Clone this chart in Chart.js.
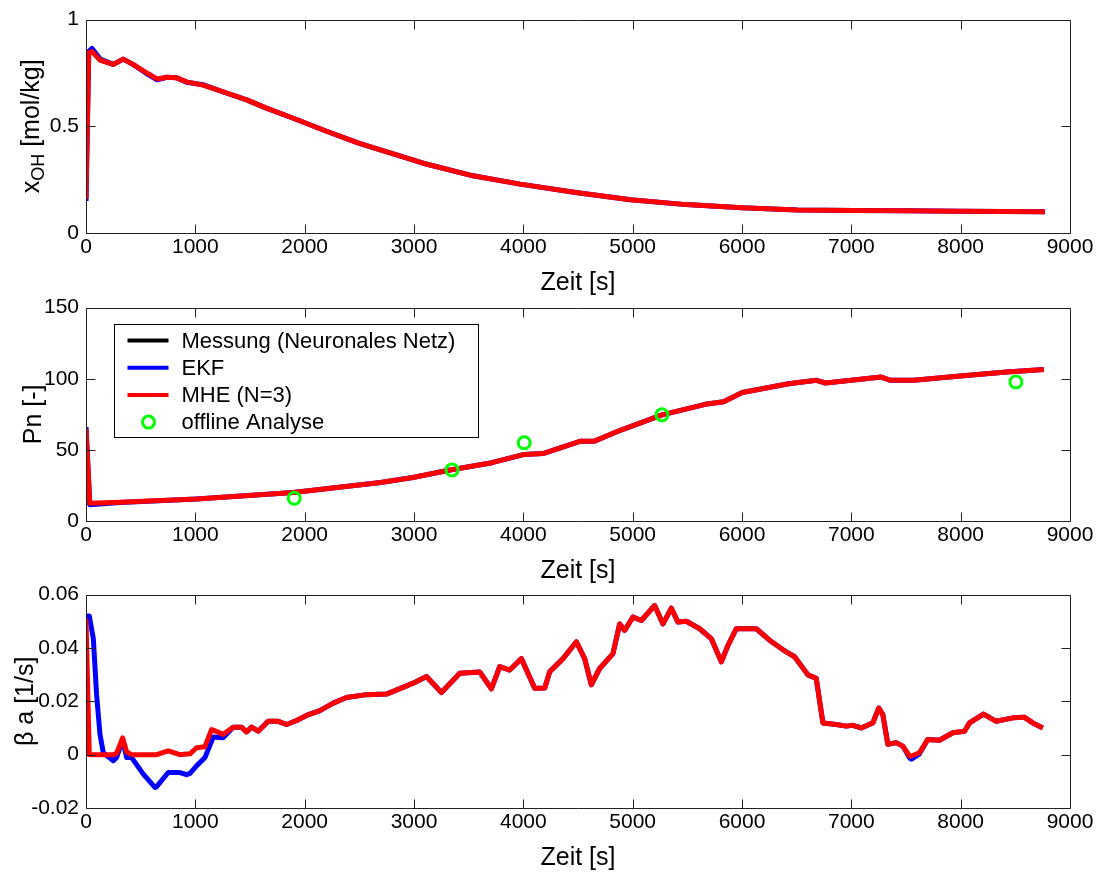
<!DOCTYPE html>
<html lang="de">
<head>
<meta charset="UTF-8">
<title>Zustandsschätzung: EKF und MHE</title>
<script src="https://cdn.jsdelivr.net/npm/chart.js"></script>
<style>
  body { margin: 0; background: #fff; }
  #wrap { position: relative; width: 1107px; height: 874px; overflow: hidden; }
  .plot { position: absolute; left: 0; width: 1107px; height: 298px; }
</style>
</head>
<body>
<div id="wrap">
  <div class="plot" style="top:0px"><canvas id="cOH" width="1107" height="298"></canvas></div>
  <div class="plot" style="top:288px"><canvas id="cPn" width="1107" height="298"></canvas></div>
  <div class="plot" style="top:575px"><canvas id="cBa" width="1107" height="298"></canvas></div>
</div>
<script>
// ---- Daten: x_OH [mol/kg]
const tOH = [0, 25, 55, 130, 250, 340, 430, 540, 650, 740, 830, 920, 1070, 1250, 1470, 1650, 1890, 2200, 2500, 2870, 3120, 3540, 3970, 4480, 4980, 5490, 6000, 6510, 7020, 7500, 8000, 8400, 8770];
const ohMess = [0.84, 0.845, 0.845, 0.805, 0.785, 0.81, 0.785, 0.75, 0.716, 0.726, 0.722, 0.704, 0.69, 0.658, 0.62, 0.582, 0.535, 0.474, 0.417, 0.358, 0.32, 0.266, 0.227, 0.188, 0.155, 0.132, 0.117, 0.108, 0.105, 0.104, 0.102, 0.101, 0.099];
const ohEKF = [0.15, 0.85, 0.865, 0.815, 0.79, 0.815, 0.79, 0.752, 0.718, 0.73, 0.727, 0.706, 0.695, 0.662, 0.624, 0.585, 0.539, 0.477, 0.42, 0.361, 0.322, 0.268, 0.229, 0.19, 0.156, 0.133, 0.118, 0.108, 0.105, 0.104, 0.102, 0.101, 0.099];
const ohMHE = [0.16, 0.845, 0.85, 0.81, 0.79, 0.815, 0.79, 0.755, 0.722, 0.73, 0.727, 0.708, 0.693, 0.662, 0.624, 0.585, 0.539, 0.477, 0.42, 0.361, 0.322, 0.268, 0.229, 0.19, 0.156, 0.133, 0.118, 0.108, 0.105, 0.104, 0.102, 0.101, 0.099];

// ---- Daten: Pn [-]
const tPn = [0, 35, 311, 1011, 1895, 2695, 2990, 3331, 3712, 4009, 4179, 4518, 4645, 4899, 5269, 5663, 5832, 6002, 6426, 6680, 6765, 7274, 7359, 7572, 7996, 8420, 8760];
const pnMess = [12, 12.5, 13, 15.3, 19.9, 26.9, 30.4, 35.7, 40.8, 46.6, 47.2, 55.8, 55.8, 63.9, 74.4, 81.8, 83.6, 90.1, 96.3, 98.7, 96.8, 101, 98.7, 98.7, 101.7, 104.5, 106.3];
const pnEKF = [66, 11.5, 13, 15.5, 20.1, 27.1, 30.6, 35.9, 41, 46.8, 47.4, 56, 56, 64.1, 74.6, 82, 83.8, 90.3, 96.5, 98.9, 97, 101.2, 98.9, 98.9, 101.9, 104.7, 106.5];
const pnMHE = [65, 12.5, 13.2, 15.5, 20.1, 27.1, 30.6, 35.9, 41, 46.8, 47.4, 56, 56, 64.1, 74.6, 82, 83.8, 90.3, 96.5, 98.9, 97, 101.2, 98.9, 98.9, 101.9, 104.7, 106.5];
const offT = [1905, 3348, 4008, 5268, 8505];
const offPn = [16, 35.9, 55, 74.6, 97.7];

// ---- Daten: beta a [1/s]
const tBa = [0, 30, 67, 97, 128, 158, 250, 280, 335, 372, 418, 524, 631, 646, 752, 859, 920, 951, 1011, 1088, 1148, 1164, 1254, 1346, 1422, 1468, 1514, 1575, 1667, 1758, 1835, 1926, 2017, 2139, 2261, 2383, 2566, 2749, 2992, 3114, 3251, 3419, 3601, 3708, 3784, 3876, 3982, 4104, 4196, 4241, 4363, 4485, 4561, 4622, 4698, 4820, 4881, 4927, 5003, 5079, 5201, 5277, 5354, 5414, 5491, 5613, 5719, 5811, 5872, 5948, 6131, 6252, 6405, 6481, 6603, 6679, 6740, 6862, 6953, 7014, 7090, 7197, 7251, 7288, 7334, 7410, 7471, 7532, 7550, 7623, 7699, 7806, 7928, 8035, 8081, 8209, 8325, 8477, 8584, 8660, 8751];
const baEKF = [0.052, 0.052, 0.0435, 0.0224, 0.0076, 0.0007, -0.0023, -0.0011, 0.0057, -0.0011, -0.0011, -0.0073, -0.0123, -0.012, -0.0067, -0.0067, -0.0075, -0.007, -0.0042, -0.0011, 0.005, 0.0066, 0.0063, 0.0103, 0.0103, 0.0085, 0.0103, 0.0088, 0.0125, 0.0125, 0.0113, 0.0128, 0.0147, 0.0165, 0.0193, 0.0214, 0.0225, 0.0227, 0.0268, 0.0293, 0.0233, 0.0305, 0.031, 0.0247, 0.033, 0.0317, 0.036, 0.0249, 0.025, 0.0311, 0.036, 0.0423, 0.036, 0.0262, 0.0323, 0.0379, 0.049, 0.0466, 0.0516, 0.0503, 0.0559, 0.049, 0.0549, 0.0497, 0.05, 0.0472, 0.0435, 0.0348, 0.041, 0.0472, 0.0472, 0.0429, 0.0385, 0.0367, 0.0299, 0.0286, 0.0119, 0.0113, 0.0107, 0.011, 0.01, 0.0119, 0.0175, 0.015, 0.0039, 0.0045, 0.0032, -0.0012, -0.0017, 0.0003, 0.0057, 0.0054, 0.0082, 0.0088, 0.0119, 0.0152, 0.0125, 0.0138, 0.014, 0.0119, 0.01];
const baMHE = [0.051, 0, 0, 0, 0, 0, 0, 0.0005, 0.0063, 0.001, 0, 0, 0, 0, 0.0014, 0, 0.0002, 0.0003, 0.0026, 0.003, 0.0094, 0.0092, 0.0076, 0.0103, 0.0103, 0.0085, 0.0103, 0.0088, 0.0125, 0.0125, 0.0113, 0.0128, 0.0147, 0.0165, 0.0193, 0.0214, 0.0225, 0.0227, 0.0268, 0.0293, 0.0233, 0.0305, 0.031, 0.0247, 0.033, 0.0317, 0.036, 0.0249, 0.025, 0.0311, 0.036, 0.0423, 0.036, 0.0262, 0.0323, 0.0379, 0.049, 0.0466, 0.0516, 0.0503, 0.0559, 0.049, 0.0549, 0.0497, 0.05, 0.0472, 0.0435, 0.0348, 0.041, 0.0472, 0.0472, 0.0429, 0.0385, 0.0367, 0.0299, 0.0286, 0.0119, 0.0113, 0.0107, 0.011, 0.01, 0.0119, 0.0175, 0.015, 0.0039, 0.0045, 0.0032, -0.0005, -0.0005, 0.0007, 0.0057, 0.0054, 0.0082, 0.0088, 0.0119, 0.0152, 0.0125, 0.0138, 0.014, 0.0119, 0.01];

const FONT = '"Liberation Sans", Arial, Helvetica, sans-serif';
Chart.defaults.font.family = FONT;
Chart.defaults.color = '#000';

function pts(t, v) {
    return t.map((x, i) => ({ x: x, y: v[i] }));
}

function fmt(v) {
    return String(Number(v.toFixed(4)));
}

// Rahmen und Tickstriche nach innen (wie in Matlab)
const axesBox = {
    id: 'axesBox',
    afterDatasetsDraw(chart) {
        const { ctx, chartArea: a, scales } = chart;
        const L = Math.round(a.left) + 0.5, R = Math.round(a.right) + 0.5;
        const T = Math.round(a.top) + 0.5, B = Math.round(a.bottom) + 0.5;
        const TL = 9;
        ctx.save();
        ctx.strokeStyle = '#222';
        ctx.lineWidth = 1;
        ctx.beginPath();
        ctx.rect(L, T, R - L, B - T);
        scales.x.ticks.forEach(t => {
            const p = Math.round(scales.x.getPixelForValue(t.value)) + 0.5;
            ctx.moveTo(p, B); ctx.lineTo(p, B - TL);
            ctx.moveTo(p, T); ctx.lineTo(p, T + TL);
        });
        scales.y.ticks.forEach(t => {
            const p = Math.round(scales.y.getPixelForValue(t.value)) + 0.5;
            ctx.moveTo(L, p); ctx.lineTo(L + TL, p);
            ctx.moveTo(R, p); ctx.lineTo(R - TL, p);
        });
        ctx.stroke();
        ctx.restore();
    }
};

// y-Achsenbeschriftung (mit Index für x_OH)
function yTitle(parts, cx) {
    return {
        id: 'yTitle',
        afterDraw(chart) {
            const { ctx, chartArea: a } = chart;
            const big = '25px ' + FONT, small = '18px ' + FONT;
            ctx.save();
            ctx.translate(cx, (a.top + a.bottom) / 2);
            ctx.rotate(-Math.PI / 2);
            ctx.fillStyle = '#000';
            ctx.textBaseline = 'middle';
            let w = 0;
            parts.forEach(p => { ctx.font = p.sub ? small : big; w += ctx.measureText(p.text).width; });
            let x = -w / 2;
            parts.forEach(p => {
                ctx.font = p.sub ? small : big;
                ctx.fillText(p.text, x, p.sub ? 7 : 0);
                x += ctx.measureText(p.text).width;
            });
            ctx.restore();
        }
    };
}

// Legende im mittleren Diagramm
const legendBox = {
    id: 'legendBox',
    afterDraw(chart) {
        const { ctx, chartArea: a } = chart;
        const bx = Math.round(a.left + 28) + 0.5, by = Math.round(a.top + 16) + 0.5;
        const bw = 364, bh = 113;
        ctx.save();
        ctx.fillStyle = '#fff';
        ctx.fillRect(bx, by, bw, bh);
        ctx.strokeStyle = '#000';
        ctx.lineWidth = 1;
        ctx.strokeRect(bx, by, bw, bh);
        ctx.font = '22px ' + FONT;
        ctx.textBaseline = 'middle';
        chart.data.datasets.forEach((ds, i) => {
            const cy = by + 16 + i * 27.2;
            if (ds.showLine === false) {
                ctx.beginPath();
                ctx.arc(bx + 34, cy, 6, 0, Math.PI * 2);
                ctx.strokeStyle = ds.pointBorderColor;
                ctx.lineWidth = 3;
                ctx.stroke();
            } else {
                ctx.beginPath();
                ctx.moveTo(bx + 13, cy);
                ctx.lineTo(bx + 54, cy);
                ctx.strokeStyle = ds.borderColor;
                ctx.lineWidth = 4;
                ctx.stroke();
            }
            ctx.fillStyle = '#000';
            ctx.fillText(ds.label, bx + 67, cy + 1);
        });
        ctx.restore();
    }
};

function lineDs(label, data, color, width, order) {
    return {
        label: label, data: data, borderColor: color, backgroundColor: color,
        borderWidth: width, pointRadius: 0, tension: 0, order: order,
        borderJoinStyle: 'round'
    };
}

function makeChart(id, datasets, yMin, yMax, yStep, plugins) {
    return new Chart(document.getElementById(id), {
        type: 'line',
        data: { datasets: datasets },
        options: {
            responsive: false,
            animation: false,
            devicePixelRatio: 1,
            layout: { padding: { left: 0, right: 37, top: 17, bottom: 0 } },
            plugins: { legend: { display: false }, tooltip: { enabled: false } },
            scales: {
                x: {
                    type: 'linear', min: 0, max: 9000,
                    grid: { display: false, drawTicks: false },
                    border: { display: false },
                    ticks: { stepSize: 1000, padding: 2, maxRotation: 0, autoSkip: false,
                        font: { size: 21 }, callback: v => fmt(v) },
                    title: { display: true, text: 'Zeit [s]', font: { size: 25 }, padding: 0 },
                    afterFit: s => { s.height = 65; }
                },
                y: {
                    min: yMin, max: yMax,
                    grid: { display: false, drawTicks: false },
                    border: { display: false },
                    ticks: { stepSize: yStep, padding: 7, autoSkip: false,
                        font: { size: 21 }, callback: v => fmt(v) },
                    afterFit: s => { s.width = 86; }
                }
            }
        },
        plugins: plugins
    });
}

makeChart('cOH', [
    lineDs('Messung (Neuronales Netz)', pts(tOH, ohMess), '#000000', 2.5, 4),
    lineDs('EKF', pts(tOH, ohEKF), '#0000ff', 5, 3),
    lineDs('MHE (N=3)', pts(tOH, ohMHE), '#ff0000', 5, 2)
], 0, 1, 0.5, [axesBox, yTitle([{ text: 'x' }, { text: 'OH', sub: true }, { text: ' [mol/kg]' }], 32)]);

makeChart('cPn', [
    lineDs('Messung (Neuronales Netz)', pts(tPn, pnMess), '#000000', 2.5, 4),
    lineDs('EKF', pts(tPn, pnEKF), '#0000ff', 5, 3),
    lineDs('MHE (N=3)', pts(tPn, pnMHE), '#ff0000', 5, 2),
    {
        label: 'offline Analyse', data: pts(offT, offPn), showLine: false, order: 1,
        pointStyle: 'circle', pointRadius: 6, pointBorderWidth: 3,
        pointBorderColor: '#00ff00', pointBackgroundColor: 'rgba(0,0,0,0)'
    }
], 0, 150, 50, [axesBox, yTitle([{ text: 'Pn [-]' }], 34), legendBox]);

makeChart('cBa', [
    lineDs('EKF', pts(tBa, baEKF), '#0000ff', 5, 3),
    lineDs('MHE (N=3)', pts(tBa, baMHE), '#ff0000', 5, 2)
], -0.02, 0.06, 0.02, [axesBox, yTitle([{ text: 'β a [1/s]' }], 26)]);
</script>
</body>
</html>
